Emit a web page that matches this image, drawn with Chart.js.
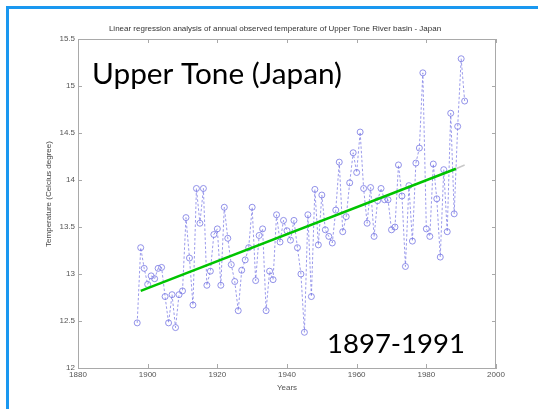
<!DOCTYPE html>
<html>
<head>
<meta charset="utf-8">
<script src="https://cdn.jsdelivr.net/npm/chart.js@4.4.0/dist/chart.umd.min.js"></script>
<style>
  html, body { margin: 0; padding: 0; background: #ffffff; overflow: hidden; }
  canvas { display: block; }
</style>
</head>
<body>
<canvas id="c" width="538" height="409"></canvas>
<script>
// ---- data ----
const years = [1897,1898,1899,1900,1901,1902,1903,1904,1905,1906,1907,1908,1909,1910,
  1911,1912,1913,1914,1915,1916,1917,1918,1919,1920,1921,1922,1923,1924,1925,1926,
  1927,1928,1929,1930,1931,1932,1933,1934,1935,1936,1937,1938,1939,1940,1941,1942,
  1943,1944,1945,1946,1947,1948,1949,1950,1951,1952,1953,1954,1955,1956,1957,1958,
  1959,1960,1961,1962,1963,1964,1965,1966,1967,1968,1969,1970,1971,1972,1973,1974,
  1975,1976,1977,1978,1979,1980,1981,1982,1983,1984,1985,1986,1987,1988,1989,1990,1991];
const temps = [12.48,13.28,13.06,12.89,12.98,12.95,13.06,13.07,12.76,12.48,12.78,12.43,12.78,12.82,
  13.60,13.17,12.67,13.91,13.54,13.91,12.88,13.03,13.42,13.48,12.88,13.71,13.38,13.10,12.92,12.61,
  13.04,13.15,13.28,13.71,12.93,13.41,13.48,12.61,13.03,12.94,13.63,13.34,13.57,13.46,13.36,13.57,
  13.28,13.00,12.38,13.63,12.76,13.90,13.31,13.84,13.47,13.40,13.33,13.68,14.19,13.45,13.61,13.97,
  14.29,14.08,14.51,13.91,13.54,13.92,13.40,13.78,13.91,13.79,13.79,13.47,13.50,14.16,13.83,13.08,
  13.94,13.35,14.18,14.34,15.14,13.48,13.40,14.17,13.80,13.18,14.11,13.45,14.71,13.64,14.57,15.29,14.84];
const fitYears = [1898, 1988.5];
const fitTemps = [12.82, 14.12];
const extYears = [1988.5, 1991];
const extTemps = [14.12, 14.16];
const xTicks = [1880, 1900, 1920, 1940, 1960, 1980, 2000];
const yTicks = [12, 12.5, 13, 13.5, 14, 14.5, 15, 15.5];

const titleText = 'Linear regression analysis of annual observed temperature of Upper Tone River basin - Japan';
const yTitleText = 'Temperature (Celcius degree)';
const xTitleText = 'Years';
const labelMain = 'Upper Tone (Japan)';
const labelPeriod = '1897-1991';

const toXY = (xs, ys) => xs.map((x, i) => ({x: x, y: ys[i]}));

const axisFont = {family: '"Liberation Sans", Arial, sans-serif', size: 8};

const decor = {
  id: 'decor',
  beforeDraw(chart) {
    const ctx = chart.ctx;
    ctx.save();
    ctx.fillStyle = '#ffffff';
    ctx.fillRect(0, 0, chart.width, chart.height);
    // slide frame: left and top edges only
    ctx.fillStyle = '#1a98f0';
    ctx.fillRect(6, 6, 3, chart.height);
    ctx.fillRect(6, 6, chart.width, 3);
    ctx.restore();
  },
  afterDraw(chart) {
    const ctx = chart.ctx;
    const a = chart.chartArea;
    const xs = chart.scales.x, ys = chart.scales.y;
    ctx.save();
    // frame
    ctx.strokeStyle = '#a9a9a9';
    ctx.lineWidth = 1;
    ctx.strokeRect(Math.round(a.left) + 0.5, Math.round(a.top) + 0.5,
                   Math.round(a.right - a.left) - 1, Math.round(a.bottom - a.top));
    // inward ticks
    ctx.beginPath();
    const tl = 4;
    xTicks.forEach(v => {
      const px = Math.round(xs.getPixelForValue(v)) + 0.5;
      ctx.moveTo(px, a.bottom); ctx.lineTo(px, a.bottom - tl);
      ctx.moveTo(px, a.top); ctx.lineTo(px, a.top + tl);
    });
    yTicks.forEach(v => {
      const py = Math.round(ys.getPixelForValue(v)) + 0.5;
      ctx.moveTo(a.left, py); ctx.lineTo(a.left + tl, py);
      ctx.moveTo(a.right, py); ctx.lineTo(a.right - tl, py);
    });
    ctx.stroke();
    // title
    ctx.fillStyle = '#333';
    ctx.font = '8px "Liberation Sans", Arial, sans-serif';
    ctx.textAlign = 'center';
    ctx.textBaseline = 'middle';
    ctx.fillText(titleText, 275, 29);
    // y title
    ctx.save();
    ctx.translate(49, 194);
    ctx.rotate(-Math.PI / 2);
    ctx.fillStyle = '#444';
    ctx.fillText(yTitleText, 0, 0);
    ctx.restore();
    // big labels
    ctx.fillStyle = '#000';
    ctx.textAlign = 'left';
    ctx.textBaseline = 'alphabetic';
    const fitFont = (text, w) => {
      ctx.font = '28px Lato, "Noto Sans", sans-serif';
      const m = ctx.measureText(text).width;
      const size = 28 * w / m;
      ctx.font = size.toFixed(2) + 'px Lato, "Noto Sans", sans-serif';
    };
    fitFont(labelMain, 250);
    ctx.fillText(labelMain, 92, 83.5);
    fitFont(labelPeriod, 138);
    ctx.fillText(labelPeriod, 327, 352.5);
    ctx.restore();
  }
};

new Chart(document.getElementById('c'), {
  type: 'scatter',
  data: {
    datasets: [
      {
        data: toXY(fitYears, fitTemps),
        showLine: true,
        borderColor: '#00c400',
        borderWidth: 2.5,
        pointRadius: 0,
        order: 0
      },
      {
        data: toXY(extYears, extTemps),
        showLine: true,
        borderColor: '#c8c8c8',
        borderWidth: 1.5,
        pointRadius: 0,
        order: 1
      },
      {
        data: toXY(years, temps),
        showLine: true,
        borderColor: 'rgba(120,120,228,0.75)',
        borderWidth: 1,
        borderDash: [2.5, 2],
        pointRadius: 3,
        pointStyle: 'circle',
        pointBackgroundColor: 'rgba(255,255,255,0)',
        pointBorderColor: 'rgba(120,120,228,0.8)',
        pointBorderWidth: 1,
        order: 2
      }
    ]
  },
  options: {
    responsive: false,
    animation: false,
    devicePixelRatio: 1,
    layout: {padding: {left: 28, right: 42, top: 39, bottom: 0}},
    plugins: {legend: {display: false}, tooltip: {enabled: false}, title: {display: false}},
    scales: {
      x: {
        type: 'linear',
        min: 1880, max: 2000,
        afterBuildTicks: s => { s.ticks = xTicks.map(v => ({value: v})); },
        afterFit: s => { s.height = 41; },
        ticks: {font: axisFont, color: '#555', padding: 2, maxRotation: 0, autoSkip: false,
                callback: v => String(v)},
        grid: {drawOnChartArea: false, drawTicks: false},
        border: {color: '#a9a9a9'},
        title: {display: true, text: xTitleText, font: axisFont, color: '#555',
                padding: {top: 0, bottom: 16}}
      },
      y: {
        type: 'linear',
        min: 12, max: 15.5,
        afterBuildTicks: s => { s.ticks = yTicks.map(v => ({value: v})); },
        afterFit: s => { s.width = 50; },
        ticks: {font: axisFont, color: '#555', padding: 3, autoSkip: false,
                callback: v => String(v)},
        grid: {drawOnChartArea: false, drawTicks: false},
        border: {color: '#a9a9a9'}
      }
    }
  },
  plugins: [decor]
});
</script>
</body>
</html>
